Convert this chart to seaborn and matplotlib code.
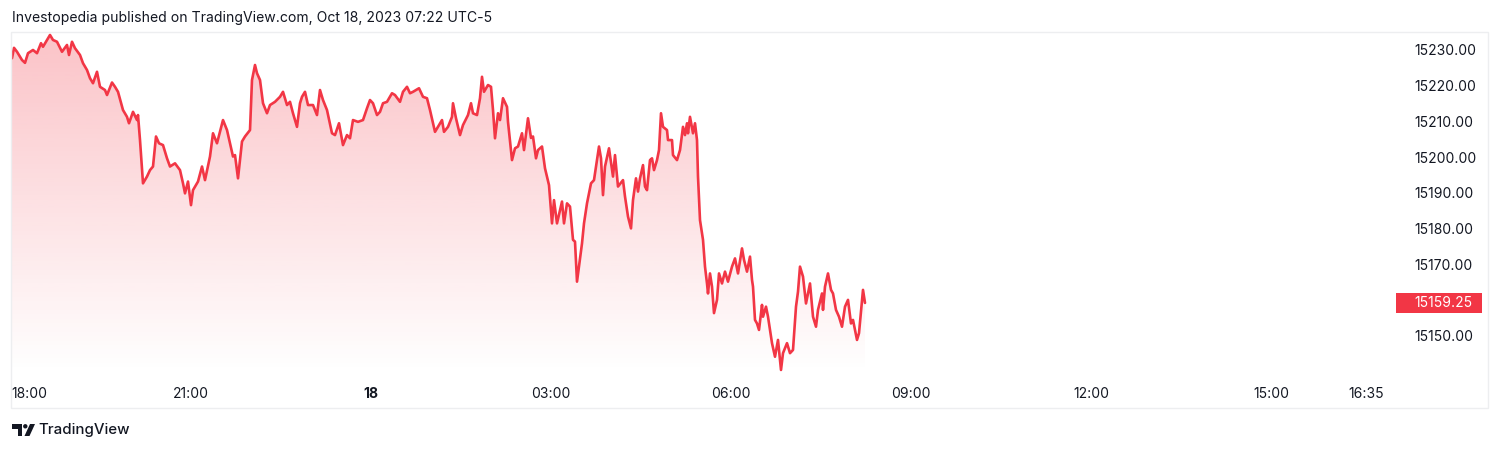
import numpy as np
import pandas as pd
import matplotlib
matplotlib.use("Agg")
import matplotlib.pyplot as plt
import matplotlib.transforms as mtransforms
from matplotlib.patches import Rectangle, Polygon, Circle, PathPatch
import seaborn as sns

# ---------------- data (minutes after 18:00 session start, NQ futures price) -------------
minutes = [1, 3, 6, 11, 14, 17, 22, 26, 30, 32, 39, 42, 46, 51, 56, 58, 61, 64, 69, 72,
           76, 79, 82, 86, 89, 94, 96, 101, 104, 107, 112, 116, 118, 122, 126, 127, 129, 132, 136, 139,
           142, 145, 148, 152, 156, 159, 164, 169, 172, 174, 177, 180, 182, 187, 191, 194, 199, 202, 206, 212,
           216, 219, 222, 224, 227, 231, 234, 239, 241, 244, 246, 249, 252, 256, 259, 264, 269, 272, 276, 279,
           282, 286, 289, 291, 294, 297, 302, 306, 309, 312, 316, 321, 324, 328, 332, 336, 339, 342, 347, 352,
           356, 359, 362, 366, 369, 372, 376, 381, 384, 389, 392, 396, 399, 402, 408, 412, 416, 419, 422, 424,
           427, 431, 433, 437, 441, 442, 445, 449, 452, 457, 460, 462, 466, 469, 471, 473, 477, 480, 482, 484,
           487, 489, 492, 496, 497, 501, 504, 507, 511, 513, 517, 520, 522, 525, 527, 531, 534, 538, 541, 543,
           546, 549, 551, 553, 556, 559, 562, 564, 566, 568, 571, 573, 576, 580, 583, 586, 588, 590, 592, 594,
           598, 602, 604, 607, 612, 614, 617, 620, 622, 625, 627, 629, 632, 634, 636, 639, 641, 643, 646, 648,
           650, 652, 656, 657, 661, 662, 666, 669, 672, 674, 676, 677, 679, 682, 684, 686, 687, 689, 692, 694,
           696, 697, 699, 701, 703, 706, 708, 711, 714, 717, 721, 724, 727, 731, 733, 736, 739, 741, 742, 744,
           746, 748, 751, 752, 755, 757, 761, 764, 767, 770, 772, 776, 779, 782, 785, 787, 789, 792, 795, 799,
           802, 805, 807, 811, 812, 814, 817, 820, 822, 825, 828, 831, 834, 837, 840, 842, 846, 848, 851, 852,
           854]
prices = [15227.7, 15230.6, 15229.5, 15227.2, 15226.4, 15229.1, 15230.0, 15229.1, 15231.9, 15230.9,
          15234.2, 15232.8, 15232.3, 15229.5, 15231.4, 15228.6, 15232.3, 15230.5, 15228.6, 15226.3,
          15224.4, 15222.1, 15220.7, 15223.9, 15219.7, 15218.8, 15217.4, 15220.9, 15219.7, 15218.3,
          15213.2, 15211.3, 15209.5, 15212.7, 15210.4, 15211.8, 15204.8, 15192.7, 15194.6, 15196.4,
          15197.4, 15205.8, 15203.9, 15203.4, 15199.7, 15197.4, 15198.3, 15196.4, 15192.7, 15189.9,
          15193.2, 15186.6, 15190.8, 15193.2, 15197.4, 15193.6, 15200.2, 15206.7, 15203.9, 15210.4,
          15207.6, 15203.9, 15200.2, 15200.6, 15194.1, 15204.4, 15205.8, 15207.6, 15221.6, 15225.8,
          15223.5, 15221.6, 15215.1, 15212.3, 15214.6, 15215.5, 15216.9, 15218.3, 15214.6, 15215.5,
          15212.3, 15208.5, 15215.1, 15216.9, 15218.3, 15214.6, 15214.6, 15211.8, 15218.8, 15216.0,
          15213.2, 15206.7, 15206.2, 15209.5, 15203.4, 15206.2, 15205.3, 15210.4, 15209.9, 15210.4,
          15213.7, 15216.0, 15215.1, 15211.8, 15212.7, 15215.1, 15215.5, 15217.9, 15217.4, 15215.5,
          15218.3, 15219.7, 15217.9, 15218.3, 15219.3, 15216.9, 15216.5, 15213.2, 15209.5, 15207.1,
          15208.5, 15210.4, 15207.1, 15208.5, 15211.3, 15215.1, 15210.9, 15206.2, 15209.0, 15211.8,
          15215.1, 15212.3, 15211.8, 15216.5, 15222.5, 15218.3, 15220.2, 15219.7, 15213.2, 15205.3,
          15212.3, 15210.4, 15216.5, 15214.1, 15209.9, 15199.2, 15202.5, 15203.0, 15206.7, 15202.0,
          15210.9, 15205.4, 15205.8, 15199.7, 15202.0, 15203.0, 15196.9, 15192.2, 15181.5, 15188.0,
          15181.5, 15185.2, 15187.6, 15181.5, 15187.1, 15186.2, 15176.9, 15176.4, 15165.2, 15169.4,
          15175.9, 15181.5, 15187.1, 15192.7, 15193.6, 15199.2, 15203.0, 15199.7, 15189.4, 15197.4,
          15202.5, 15194.6, 15200.6, 15191.8, 15193.6, 15189.0, 15183.4, 15180.1, 15188.0, 15194.1,
          15190.4, 15194.1, 15197.8, 15191.8, 15190.8, 15199.2, 15199.7, 15196.4, 15199.2, 15202.0,
          15212.3, 15208.5, 15207.6, 15204.8, 15204.8, 15200.6, 15199.2, 15202.0, 15208.5, 15206.2,
          15209.5, 15206.7, 15211.3, 15206.7, 15209.5, 15204.8, 15194.6, 15182.4, 15176.9, 15169.4,
          15164.7, 15161.9, 15167.5, 15163.8, 15156.4, 15160.1, 15167.5, 15164.7, 15168.0, 15165.2,
          15169.4, 15171.7, 15167.5, 15174.5, 15171.3, 15168.0, 15172.2, 15165.7, 15163.8, 15154.5,
          15153.5, 15151.7, 15158.7, 15155.4, 15158.2, 15155.4, 15148.0, 15144.2, 15148.9, 15140.5,
          15145.2, 15148.0, 15145.2, 15146.1, 15158.2, 15162.4, 15169.4, 15166.6, 15159.1, 15164.7,
          15155.4, 15152.6, 15157.3, 15161.9, 15157.3, 15163.8, 15167.5, 15162.9, 15161.9, 15157.3,
          15155.4, 15152.6, 15158.2, 15160.1, 15153.5, 15154.5, 15148.9, 15150.8, 15160.1, 15162.9,
          15159.25]
last_price = 15159.25
price_ticks = [15150, 15170, 15180, 15190, 15200, 15210, 15220, 15230]
time_tick_minutes = [0, 180, 360, 540, 720, 900, 1080, 1260, 1355]
time_tick_labels = ["18:00", "21:00", "18", "03:00", "06:00", "09:00", "12:00", "15:00", "16:35"]
title_text = "Investopedia published on TradingView.com, Oct 18, 2023 07:22 UTC-5"
brand_text = "TradingView"

RED = "#F23645"
TXT = "#131722"
FRAME = "#EDEEF0"

sns.set_theme(style="white")
plt.rcParams["font.family"] = ["Inter", "DejaVu Sans"]

W, H = 1500, 450
fig = plt.figure(figsize=(W / 100, H / 100), dpi=100)
fig.patch.set_facecolor("white")
ax = fig.add_axes([11 / W, 78 / H, 1384 / W, 340 / H])
ax.set_facecolor("none")

df = pd.DataFrame({"minute": minutes, "price": prices})
sns.lineplot(data=df, x="minute", y="price", ax=ax, color=RED, linewidth=1.9,
             zorder=4, estimator=None, sort=False)

ybot, ytop = 15139.93, 15235.03
ax.set_xlim(0, 1384)
ax.set_ylim(ybot, ytop)

# gradient area under the line
poly = ax.fill_between(df["minute"], df["price"], ybot, color="none", linewidth=0)
clip = PathPatch(poly.get_paths()[0], transform=ax.transData, facecolor="none", edgecolor="none")
ax.add_patch(clip)
n = 256
alphas = np.linspace(0.30, 0.0, n)
img = np.zeros((n, 1, 4))
rgb = matplotlib.colors.to_rgb(RED)
img[:, 0, 0], img[:, 0, 1], img[:, 0, 2] = rgb
img[:, 0, 3] = alphas
im = ax.imshow(img, extent=[0, 1384, ybot, max(prices)], aspect="auto", origin="upper",
               zorder=2, interpolation="bilinear")
im.set_clip_path(clip)
ax.set_xlim(0, 1384)
ax.set_ylim(ybot, ytop)

for s in ax.spines.values():
    s.set_visible(False)
ax.grid(False)
ax.set_xlabel("")
ax.set_ylabel("")

ax.yaxis.tick_right()
ax.set_yticks(price_ticks)
ax.set_yticklabels([f"{v:.2f}" for v in price_ticks])
ax.tick_params(axis="y", length=0, pad=13.7, labelsize=10, labelcolor=TXT)

ax.set_xticks(time_tick_minutes)
ax.set_xticklabels(time_tick_labels)
ax.tick_params(axis="x", length=0, pad=10.5, labelsize=10, labelcolor=TXT)
xt = ax.get_xticklabels()
xt[0].set_horizontalalignment("left")
xt[2].set_fontweight("bold")

# outer frame
fig.add_artist(Rectangle((11 / W, 42 / H), 1477 / W, 376 / H, transform=fig.transFigure,
                         fill=False, edgecolor=FRAME, linewidth=1))

# last price tag
_, yd = ax.transData.transform((0, last_price))
ident = mtransforms.IdentityTransform()
fig.add_artist(Rectangle((1396, yd - 10), 86, 20, transform=ident, facecolor=RED,
                         edgecolor="none", zorder=5))
fig.text(1414 / W, yd / H, f"{last_price:.2f}", color="white", fontsize=10,
         ha="left", va="center", zorder=6)

# title
fig.text(12 / W, 1 - 18 / H, title_text, ha="left", va="center", fontsize=10.1, color=TXT)

# TradingView brand
def px(x, y):
    return (x, H - y)
fig.add_artist(Polygon([px(12, 424), px(22, 424), px(22, 436), px(17.5, 436), px(17.5, 428.5),
                        px(12, 428.5)], closed=True, transform=ident, facecolor=TXT, edgecolor="none"))
fig.add_artist(Circle(px(25.3, 426.3), 2.2, transform=ident, facecolor=TXT, edgecolor="none"))
fig.add_artist(Polygon([px(30, 424), px(35, 424), px(29.5, 436), px(24.5, 436)], closed=True,
                       transform=ident, facecolor=TXT, edgecolor="none"))
fig.text(38 / W, 1 - 430 / H, brand_text, ha="left", va="center", fontsize=10.8,
         color=TXT, fontweight="medium")

fig.savefig("out.png", dpi=100, facecolor="white")
